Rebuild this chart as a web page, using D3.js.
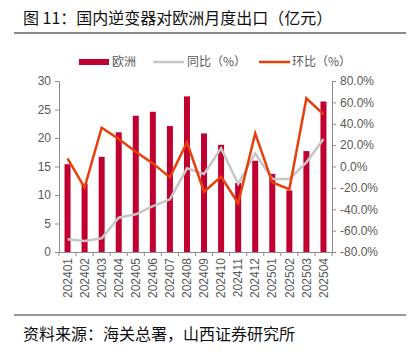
<!DOCTYPE html>
<html>
<script src="https://d3js.org/d3.v7.min.js"></script>
<style>
    body { margin: 0; background: #fff; }
    .tick text { font-family: "Liberation Sans", Arial, sans-serif; font-size: 12px; fill: #595959; }
    .tick line, .domain { stroke: #8c8c8c; }
    .cjk { font-family: "Noto Sans CJK SC", sans-serif; }
</style>
<body></body>
<script>
    const width = 412, height = 352;

    const months = ["202401", "202402", "202403", "202404", "202405", "202406", "202407", "202408",
        "202409", "202410", "202411", "202412", "202501", "202502", "202503", "202504"];
    const europe = [15.4, 12.0, 16.7, 21.0, 23.9, 24.6, 22.1, 27.3, 20.8, 18.8, 12.1, 16.0, 13.7, 10.8, 17.7, 26.4];
    const yoy = [-68.1, -69.7, -67.2, -47.9, -44.7, -37.0, -30.7, -1.7, -7.0, 17.0, -16.4, 12.3, -11.7, -11.7, 3.9, 25.7];
    const mom = [7.7, -19.8, 36.3, 25.7, 13.8, 2.9, -10.2, 22.6, -23.6, -9.5, -34.4, 31.0, -14.8, -21.3, 63.8, 48.8];
    const leftTicks = [0, 5, 10, 15, 20, 25, 30];
    const rightTicks = [-80, -60, -40, -20, 0, 20, 40, 60, 80];

    const svg = d3.select("body").append("svg").attr("width", width).attr("height", height);

    // title and rules
    svg.append("text").attr("class", "cjk")
        .attr("x", 23).attr("y", 24)
        .attr("font-size", 16).attr("fill", "#111")
        .text("图 11：国内逆变器对欧洲月度出口（亿元）");
    svg.append("line").attr("x1", 14).attr("x2", 406).attr("y1", 33).attr("y2", 33)
        .attr("stroke", "#8a8a8a").attr("stroke-width", 2);
    svg.append("line").attr("x1", 14).attr("x2", 406).attr("y1", 315).attr("y2", 315)
        .attr("stroke", "#333").attr("stroke-width", 1);
    svg.append("text").attr("class", "cjk")
        .attr("x", 23).attr("y", 340)
        .attr("font-size", 16).attr("fill", "#111")
        .text("资料来源：海关总署，山西证券研究所");

    const x = d3.scaleBand().domain(months).range([59, 332]);
    const y = d3.scaleLinear().domain([0, 30]).range([252, 81]);
    const y2 = d3.scaleLinear().domain([-80, 80]).range([252, 81]);

    // bars
    svg.append("g").selectAll("rect")
        .data(months)
        .join("rect")
        .attr("x", d => x(d) + x.bandwidth() / 2 - 3)
        .attr("width", 6)
        .attr("y", (d, i) => y(europe[i]))
        .attr("height", (d, i) => y(0) - y(europe[i]))
        .attr("fill", "#c00030");

    const line = d3.line()
        .x((d, i) => x(months[i]) + x.bandwidth() / 2)
        .y(d => y2(d));
    svg.append("path").datum(yoy)
        .attr("d", line).attr("fill", "none")
        .attr("stroke", "#c6c6c6").attr("stroke-width", 2.5);
    svg.append("path").datum(mom)
        .attr("d", line).attr("fill", "none")
        .attr("stroke", "#e8400c").attr("stroke-width", 2.5);

    // axes
    svg.append("g")
        .attr("transform", "translate(59,0)")
        .call(d3.axisLeft(y).tickValues(leftTicks).tickSize(4).tickPadding(4));
    svg.append("g")
        .attr("transform", "translate(332,0)")
        .call(d3.axisRight(y2).tickValues(rightTicks).tickSize(4).tickPadding(4)
            .tickFormat(d => d.toFixed(1) + "%"));
    const xAxis = svg.append("g")
        .attr("transform", "translate(0,252)")
        .call(d3.axisBottom(x).tickSize(0).tickPadding(6));
    xAxis.selectAll("text")
        .attr("transform", "rotate(-90)")
        .attr("text-anchor", "end")
        .attr("dy", "0.35em")
        .attr("x", -6).attr("y", 0);
    xAxis.selectAll(".sep")
        .data(d3.range(months.length + 1))
        .join("line")
        .attr("class", "sep")
        .attr("x1", i => 59 + i * x.step()).attr("x2", i => 59 + i * x.step())
        .attr("y1", 0).attr("y2", 4)
        .attr("stroke", "#8c8c8c");

    // legend
    const legend = svg.append("g").attr("class", "cjk").attr("font-size", 12).attr("fill", "#595959");
    legend.append("rect").attr("x", 79).attr("y", 59).attr("width", 30).attr("height", 6).attr("fill", "#c00030");
    legend.append("text").attr("x", 112).attr("y", 66).text("欧洲");
    legend.append("line").attr("x1", 153).attr("x2", 184).attr("y1", 62).attr("y2", 62)
        .attr("stroke", "#c6c6c6").attr("stroke-width", 2.5);
    legend.append("text").attr("x", 187).attr("y", 66).text("同比（%）");
    legend.append("line").attr("x1", 259).attr("x2", 290).attr("y1", 62).attr("y2", 62)
        .attr("stroke", "#e8400c").attr("stroke-width", 2.5);
    legend.append("text").attr("x", 292).attr("y", 66).text("环比（%）");
</script>
</html>
